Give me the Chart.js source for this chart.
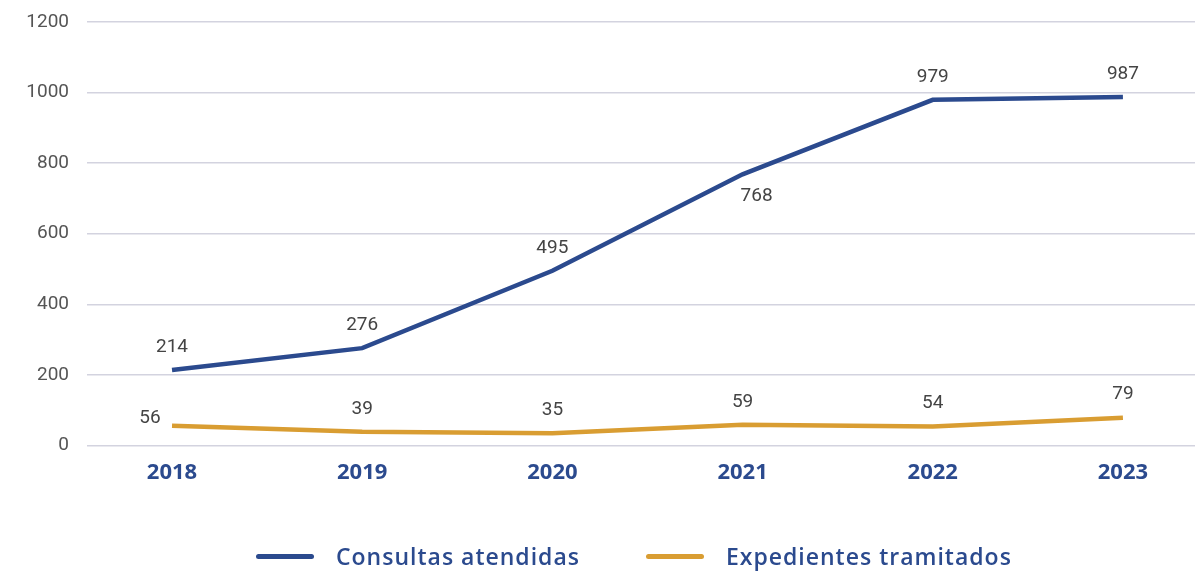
<!DOCTYPE html>
<html>
<head>
<meta charset="utf-8">
<script src="https://cdn.jsdelivr.net/npm/chart.js@4/dist/chart.umd.min.js"></script>
<style>
  html, body { margin: 0; padding: 0; background: #fff; }
  #wrap { position: relative; width: 1204px; height: 572px; }
  #legend {
    position: absolute; left: 256px; top: 540px;
    display: flex; align-items: center;
    font-family: 'Open Sans', sans-serif; font-weight: 600; font-size: 23px;
    letter-spacing: 1px;
    color: #2b4a8e; white-space: nowrap;
  }
  #legend .item { display: flex; align-items: center; margin-right: 66px; }
  #legend .swatch { width: 58px; height: 5px; border-radius: 3px; margin-right: 22px; }
</style>
</head>
<body>
<div id="wrap">
  <canvas id="myChart" width="1204" height="572"></canvas>
  <div id="legend"></div>
</div>
<script>
// chart data
const years = ['2018', '2019', '2020', '2021', '2022', '2023'];
const consultas = [214, 276, 495, 768, 979, 987];
const expedientes = [56, 39, 35, 59, 54, 79];
const yTicks = [0, 200, 400, 600, 800, 1000, 1200];

const blue = '#2b4a8e';
const gold = '#d99d32';

// value labels next to each point
const valueLabels = {
    id: 'valueLabels',
    afterDatasetsDraw(chart) {
        const ctx = chart.ctx;
        ctx.save();
        ctx.font = '19px Roboto';
        ctx.fillStyle = '#444';
        ctx.textAlign = 'center';
        ctx.textBaseline = 'middle';
        chart.data.datasets.forEach((ds, di) => {
            chart.getDatasetMeta(di).data.forEach((pt, i) => {
                let dx = 0, dy = -23;
                if (di === 0 && i === 3) { dx = 14; dy = 22; }
                if (di === 1 && i === 0) { dx = -22; dy = -8; }
                ctx.fillText(String(ds.data[i].y), pt.x + dx, pt.y + dy);
            });
        });
        ctx.restore();
    }
};

const ctx = document.getElementById('myChart').getContext('2d');
const myChart = new Chart(ctx, {
    type: 'line',
    data: {
        datasets: [
            {
                label: 'Consultas atendidas',
                data: consultas.map((v, i) => ({ x: i, y: v })),
                borderColor: blue,
                backgroundColor: blue,
                borderWidth: 4.5,
                pointRadius: 0,
                tension: 0
            },
            {
                label: 'Expedientes tramitados',
                data: expedientes.map((v, i) => ({ x: i, y: v })),
                borderColor: gold,
                backgroundColor: gold,
                borderWidth: 4.5,
                pointRadius: 0,
                tension: 0
            }
        ]
    },
    options: {
        responsive: false,
        animation: false,
        layout: {
            padding: { top: 8, right: 9, left: 0, bottom: 80 }
        },
        scales: {
            x: {
                type: 'linear',
                min: -0.447,
                max: 5.379,
                afterBuildTicks: (scale) => {
                    scale.ticks = years.map((y, i) => ({ value: i }));
                },
                ticks: {
                    callback: (v) => years[v],
                    font: { family: 'Open Sans', size: 22, weight: 'bold' },
                    color: blue,
                    padding: 6
                },
                grid: { display: false },
                border: { display: false }
            },
            y: {
                min: 0,
                max: 1200,
                afterBuildTicks: (scale) => {
                    scale.ticks = yTicks.map(v => ({ value: v }));
                },
                afterFit: (scale) => { scale.width = 87; },
                ticks: {
                    callback: (v) => String(v),
                    font: { family: 'Roboto', size: 19, lineHeight: 0.4 },
                    color: '#555',
                    padding: 18
                },
                grid: {
                    color: '#d3d3df',
                    lineWidth: 1.5,
                    drawTicks: false
                },
                border: { display: false }
            }
        },
        plugins: {
            legend: { display: false },
            tooltip: { enabled: false }
        }
    },
    plugins: [valueLabels]
});

// html legend built from the datasets
const legendEl = document.getElementById('legend');
myChart.data.datasets.forEach(ds => {
    const item = document.createElement('div');
    item.className = 'item';
    const sw = document.createElement('span');
    sw.className = 'swatch';
    sw.style.background = ds.borderColor;
    const txt = document.createElement('span');
    txt.textContent = ds.label;
    item.appendChild(sw);
    item.appendChild(txt);
    legendEl.appendChild(item);
});
</script>
</body>
</html>
